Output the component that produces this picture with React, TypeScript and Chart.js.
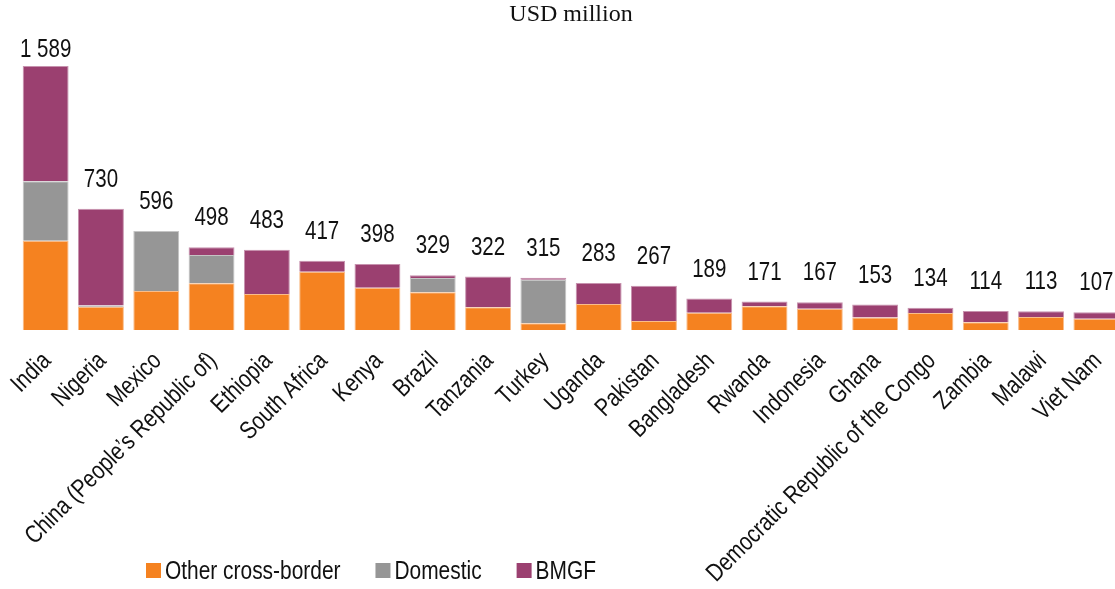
import React, { useEffect, useRef } from 'react';
import { Chart, registerables } from 'chart.js';

Chart.register(...registerables);

const categories = [
  'India',
  'Nigeria',
  'Mexico',
  'China (People\u2019s Republic of)',
  'Ethiopia',
  'South Africa',
  'Kenya',
  'Brazil',
  'Tanzania',
  'Turkey',
  'Uganda',
  'Pakistan',
  'Bangladesh',
  'Rwanda',
  'Indonesia',
  'Ghana',
  'Democratic Republic of the Congo',
  'Zambia',
  'Malawi',
  'Viet Nam',
];

const otherCrossBorder = [538, 140, 235, 281, 217, 351, 255, 227, 137, 40, 156, 54, 104, 143, 128, 76, 102, 46, 78, 68];
const domestic = [357, 8, 361, 170, 0, 0, 0, 86, 0, 263, 0, 0, 0, 0, 0, 0, 0, 0, 0, 0];
const bmgf = [694, 582, 0, 47, 266, 66, 143, 16, 185, 12, 127, 213, 85, 28, 39, 77, 32, 68, 35, 39];
const totalLabels = ['1 589', '730', '596', '498', '483', '417', '398', '329', '322', '315', '283', '267', '189', '171', '167', '153', '134', '114', '113', '107'];

const seriesNames = ['Other cross-border', 'Domestic', 'BMGF'];
const seriesColors = ['#F58220', '#969696', '#9B4070'];
const seriesEdges = ['#F9BD8A', '#C4C4C4', '#C792AE'];

const SANS = '"Liberation Sans", Arial, sans-serif';
const SERIF = '"Liberation Serif", "Times New Roman", serif';
const NARROW_SCALE = 0.82;

// draw text horizontally condensed (Arial Narrow look)
function narrowText(
  ctx: CanvasRenderingContext2D,
  text: string,
  x: number,
  y: number,
  angle = 0,
) {
  ctx.save();
  ctx.translate(x, y);
  if (angle) ctx.rotate(angle);
  ctx.scale(NARROW_SCALE, 1);
  ctx.fillText(text, 0, 0);
  ctx.restore();
}

const overlayPlugin = {
  id: 'overlay',
  afterDatasetsDraw(chart: any) {
    const ctx = chart.ctx as CanvasRenderingContext2D;
    const area = chart.chartArea;
    const xScale = chart.scales.x;
    const lastMeta = chart.getDatasetMeta(chart.data.datasets.length - 1);
    ctx.save();
    ctx.fillStyle = '#111';

    // totals above bars
    ctx.font = `25px ${SANS}`;
    ctx.textAlign = 'center';
    ctx.textBaseline = 'alphabetic';
    lastMeta.data.forEach((bar: any, i: number) => {
      const y = Math.max(bar.y - 22, area.top + 26);
      narrowText(ctx, totalLabels[i], bar.x, y);
    });

    // category labels, rotated 45 degrees
    ctx.font = `25px ${SANS}`;
    ctx.textAlign = 'right';
    ctx.textBaseline = 'middle';
    categories.forEach((label, i) => {
      const x = xScale.getPixelForTick(i);
      narrowText(ctx, label, x + 1.5, area.bottom + 27, -Math.PI / 4);
    });

    // title
    ctx.font = `24px ${SERIF}`;
    ctx.textAlign = 'center';
    ctx.textBaseline = 'alphabetic';
    ctx.fillText('USD million', (area.left + area.right) / 2, 21);

    // legend
    ctx.font = `25.5px ${SANS}`;
    ctx.textAlign = 'left';
    ctx.textBaseline = 'middle';
    let lx = 146;
    chart.data.datasets.forEach((ds: any) => {
      ctx.fillStyle = ds.backgroundColor;
      ctx.fillRect(lx, 563, 15, 15);
      ctx.fillStyle = '#111';
      narrowText(ctx, ds.label, lx + 19, 572);
      lx += 19 + ctx.measureText(ds.label).width * NARROW_SCALE + 35;
    });
    ctx.restore();
  },
};

export default function App() {
  const ref = useRef<HTMLCanvasElement>(null);

  useEffect(() => {
    const seriesValues = [otherCrossBorder, domestic, bmgf];
    const chart = new Chart(ref.current as HTMLCanvasElement, {
      type: 'bar',
      data: {
        labels: categories,
        datasets: seriesNames.map((name, k) => ({
          label: name,
          data: seriesValues[k],
          backgroundColor: seriesColors[k],
          borderColor: seriesEdges[k],
          borderWidth: 1,
          categoryPercentage: 1,
          barPercentage: 0.83,
        })),
      },
      options: {
        responsive: false,
        animation: false,
        layout: { padding: { left: 18, right: 0, top: 31, bottom: 0 } },
        plugins: {
          legend: { display: false },
          title: { display: false },
          tooltip: { enabled: false },
        },
        scales: {
          x: {
            stacked: true,
            grid: { display: false, drawTicks: false },
            border: { display: false },
            ticks: { display: false, autoSkip: false },
            afterFit: (s: any) => {
              s.height = 259;
            },
          },
          y: { stacked: true, display: false, min: 0, max: 1800 },
        },
      } as any,
      plugins: [overlayPlugin],
    });
    return () => chart.destroy();
  }, []);

  return (
    <div
      style={{
        position: 'absolute',
        left: 0,
        top: 0,
        width: 1115,
        height: 589,
        overflow: 'hidden',
        background: '#fff',
      }}
    >
      <canvas ref={ref} width={1124} height={589} style={{ display: 'block' }} />
    </div>
  );
}
